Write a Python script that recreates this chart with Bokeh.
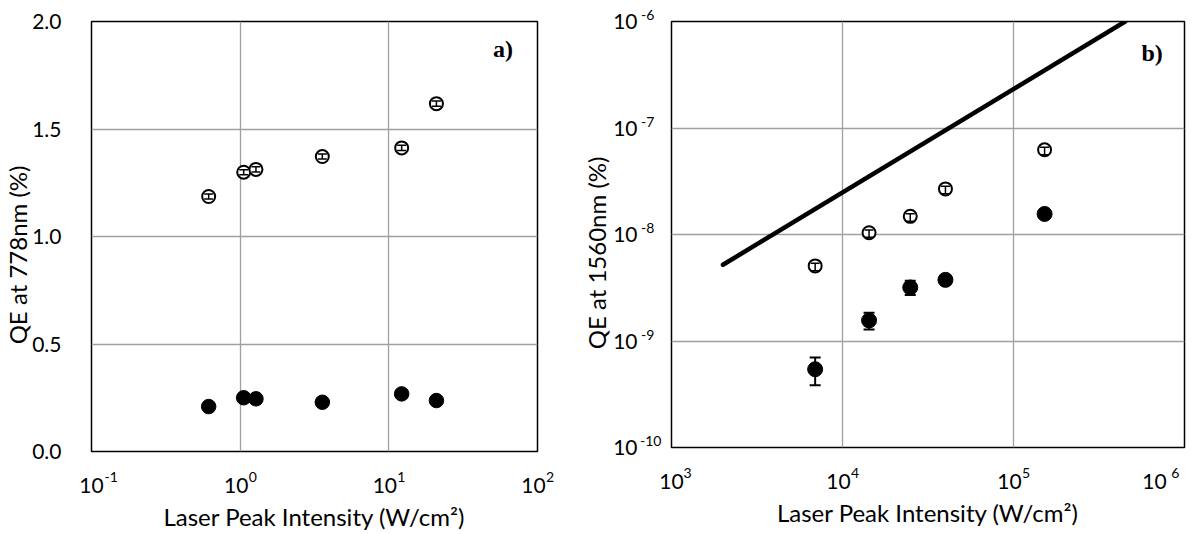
import math
from bokeh.plotting import figure
from bokeh.models import (ColumnDataSource, Whisker, TeeHead, Label, FixedTicker, LogAxis,
                          CustomJSTickFormatter, NumeralTickFormatter, Range1d)
from bokeh.layouts import row
from bokeh.embed import file_html
from bokeh.resources import INLINE

# ---------------- data: panel a) ----------------
a_x = [0.614, 1.056, 1.277, 3.57, 12.2, 20.9]
a_open = [1.186, 1.299, 1.312, 1.372, 1.412, 1.618]
a_open_err = [0.012, 0.012, 0.012, 0.012, 0.012, 0.012]
a_fill = [0.209, 0.250, 0.245, 0.229, 0.268, 0.237]
a_xticks = [0.1, 1, 10, 100]
a_yticks = [0.0, 0.5, 1.0, 1.5, 2.0]

# ---------------- data: panel b) ----------------
b_x = [6920, 14300, 24900, 40000, 152000]
b_open = [5.07e-9, 1.04e-8, 1.48e-8, 2.68e-8, 6.24e-8]
b_open_hi = [5.37e-9, 1.10e-8, 1.57e-8, 2.84e-8, 6.61e-8]
b_open_lo = [4.56e-9, 0.94e-8, 1.33e-8, 2.41e-8, 5.62e-8]
b_fill = [5.43e-10, 1.56e-9, 3.18e-9, 3.75e-9, 1.56e-8]
b_fill_hi = [6.99e-10, 1.84e-9, 3.67e-9, 3.90e-9, 1.62e-8]
b_fill_lo = [3.85e-10, 1.28e-9, 2.70e-9, 3.60e-9, 1.50e-8]
b_line_x = [2000, 450000]
b_line_y = [5.2e-9, 1.0e-6]
b_xticks = [1e3, 1e4, 1e5, 1e6]
b_yticks = [1e-10, 1e-9, 1e-8, 1e-7, 1e-6]

FONT = "Lato"
TICK_FS = "21px"
EXP_FS = "14px"
TITLE_FS = "24px"
NB = "\u00A0"

# exponent under an x axis; visible left edge at tick + L
XEXP_JS = """
const ctx = document.createElement('canvas').getContext('2d');
ctx.font = font;
const nb = ctx.measureText('\\u00A0').width || 3;
const e = String(Math.round(Math.log10(tick)));
const w = ctx.measureText(e).width;
let L = L_norm;
if (index == 0) { L = L_first; }
if (index == ticks.length - 1) { L = L_last; }
const c = L + w / 2;
const pad = '\\u00A0'.repeat(Math.round(Math.abs(2 * c) / nb));
return c >= 0 ? pad + e : e + pad;
"""

# exponent beside a left y axis (right aligned): left edges lined up, raised by a blank line
YEXP_JS = """
const ctx = document.createElement('canvas').getContext('2d');
ctx.font = font;
const nb = ctx.measureText('\\u00A0').width || 3;
const e = String(Math.round(Math.log10(tick)));
const w = ctx.measureText(e).width;
const P = Math.max(0, T - w);
return e + '\\u00A0'.repeat(Math.round(P / nb)) + '\\n\\u00A0';
"""


def style(p):
    p.outline_line_color = "black"
    p.outline_line_width = 1.5
    p.background_fill_color = "white"
    p.border_fill_color = "white"
    for g in (p.xgrid[0], p.ygrid[0]):
        g.grid_line_color = "#a0a0a0"
        g.grid_line_width = 1.3
        g.minor_grid_line_color = None


def style_axis(ax, size=TICK_FS):
    ax.axis_line_color = None
    ax.major_tick_line_color = None
    ax.minor_tick_line_color = None
    ax.major_label_text_font = FONT
    ax.major_label_text_font_size = size
    ax.major_label_text_color = "black"
    ax.axis_label_text_font = FONT
    ax.axis_label_text_font_size = TITLE_FS
    ax.axis_label_text_font_style = "normal"
    ax.axis_label_text_color = "black"


def decade_x_axis(p, ticks, px_per_decade, last_px, L_last, title):
    # "10" labels: nudged a few pixels left of each decade (label layout only)
    shifts = [0.0] + [-4.0] * (len(ticks) - 2) + [last_px]
    base_ticks = [t * 10 ** (s / px_per_decade) for t, s in zip(ticks, shifts)]
    ax = p.xaxis[0]
    style_axis(ax)
    ax.ticker = FixedTicker(ticks=base_ticks, minor_ticks=[])
    ax.formatter = CustomJSTickFormatter(code="return '10';")
    ax.major_label_standoff = 20
    ex = LogAxis(ticker=FixedTicker(ticks=ticks, minor_ticks=[]))
    style_axis(ex, EXP_FS)
    ex.formatter = CustomJSTickFormatter(
        args=dict(font="14px Lato", L_norm=8.0, L_first=12.5, L_last=L_last), code=XEXP_JS)
    ex.major_label_standoff = -34
    ex.axis_label = title
    ex.axis_label_standoff = 14
    p.add_layout(ex, "below")


# ---------------- panel a ----------------
pa = figure(x_axis_type="log", x_range=Range1d(0.1, 100), y_range=Range1d(0, 2.0),
            frame_width=446, frame_height=430,
            min_border_left=88, min_border_right=28, min_border_top=20, min_border_bottom=60,
            output_backend="svg", toolbar_location=None)
style(pa)
xt_a = FixedTicker(ticks=a_xticks, minor_ticks=[])
yt_a = FixedTicker(ticks=a_yticks, minor_ticks=[])
pa.xgrid.ticker = xt_a
pa.yaxis.ticker = yt_a
pa.ygrid.ticker = yt_a
decade_x_axis(pa, a_xticks, 446 / 3, -4.0, 8.0, "Laser Peak Intensity (W/cm\u00B2)")
style_axis(pa.yaxis[0])
pa.yaxis.formatter = NumeralTickFormatter(format="0.0")
pa.yaxis.axis_label = "QE at 778nm (%)" + NB * 6
pa.yaxis.major_label_standoff = 24
pa.yaxis.axis_label_standoff = -3

src_a = ColumnDataSource(dict(x=a_x, y=a_open,
                              hi=[v + e for v, e in zip(a_open, a_open_err)],
                              lo=[v - e for v, e in zip(a_open, a_open_err)],
                              yf=a_fill))
pa.scatter("x", "yf", source=src_a, size=14.5, fill_color="black", line_color="black")
pa.scatter("x", "y", source=src_a, size=13, fill_color="white", line_color="black", line_width=2)
pa.add_layout(Whisker(base="x", upper="hi", lower="lo", source=src_a, dimension="height",
                      line_color="black", line_width=1.5, level="overlay",
                      upper_head=TeeHead(size=9, line_width=1.5, line_color="black"),
                      lower_head=TeeHead(size=9, line_width=1.5, line_color="black")))
pa.add_layout(Label(x=58.6, y=1.872, text="a)", text_font="Liberation Serif",
                    text_font_style="bold", text_font_size="24px", text_align="center",
                    text_baseline="middle", text_color="black"))

# ---------------- panel b ----------------
pb = figure(x_axis_type="log", y_axis_type="log",
            x_range=Range1d(1e3, 1e6), y_range=Range1d(1e-10, 1e-6),
            frame_width=513, frame_height=426,
            min_border_left=106, min_border_right=2, min_border_top=21, min_border_bottom=60,
            output_backend="svg", toolbar_location=None)
style(pb)
xt_b = FixedTicker(ticks=b_xticks, minor_ticks=[])
yt_b = FixedTicker(ticks=b_yticks, minor_ticks=[])
pb.xgrid.ticker = xt_b
pb.ygrid.ticker = yt_b
decade_x_axis(pb, b_xticks, 513 / 3, -30.0, -7.0, "Laser Peak Intensity (W/cm\u00B2)")

yax = pb.yaxis[0]
style_axis(yax)
yax.ticker = yt_b
yax.formatter = CustomJSTickFormatter(code="return '10';")
yax.major_label_standoff = 28
yex = LogAxis(ticker=yt_b)
style_axis(yex, EXP_FS)
yex.major_label_text_line_height = 0.8
yex.formatter = CustomJSTickFormatter(args=dict(font="14px Lato", T=19.0), code=YEXP_JS)
yex.major_label_standoff = -57
yex.axis_label = "QE at 1560nm (%)" + NB * 6
yex.axis_label_standoff = 26
pb.add_layout(yex, "left")

pb.line(b_line_x, b_line_y, line_color="black", line_width=4.5, line_cap="round")

src_b = ColumnDataSource(dict(x=b_x, yo=b_open, ohi=b_open_hi, olo=b_open_lo,
                              yf=b_fill, fhi=b_fill_hi, flo=b_fill_lo))
pb.scatter("x", "yf", source=src_b, size=15, fill_color="black", line_color="black")
pb.add_layout(Whisker(base="x", upper="fhi", lower="flo", source=src_b, dimension="height",
                      line_color="black", line_width=2, level="overlay",
                      upper_head=TeeHead(size=11, line_width=2, line_color="black"),
                      lower_head=TeeHead(size=11, line_width=2, line_color="black")))
pb.scatter("x", "yo", source=src_b, size=13, fill_color="white", line_color="black", line_width=2)
pb.add_layout(Whisker(base="x", upper="ohi", lower="olo", source=src_b, dimension="height",
                      line_color="black", line_width=1.5, level="overlay",
                      upper_head=TeeHead(size=9, line_width=1.5, line_color="black"),
                      lower_head=TeeHead(size=9, line_width=1.5, line_color="black")))
pb.add_layout(Label(x=6.47e5, y=5.1e-7, text="b)", text_font="Liberation Serif",
                    text_font_style="bold", text_font_size="24px", text_align="center",
                    text_baseline="middle", text_color="black"))

layout = row(pa, pb)
open("out.html", "w").write(file_html(layout, INLINE))
